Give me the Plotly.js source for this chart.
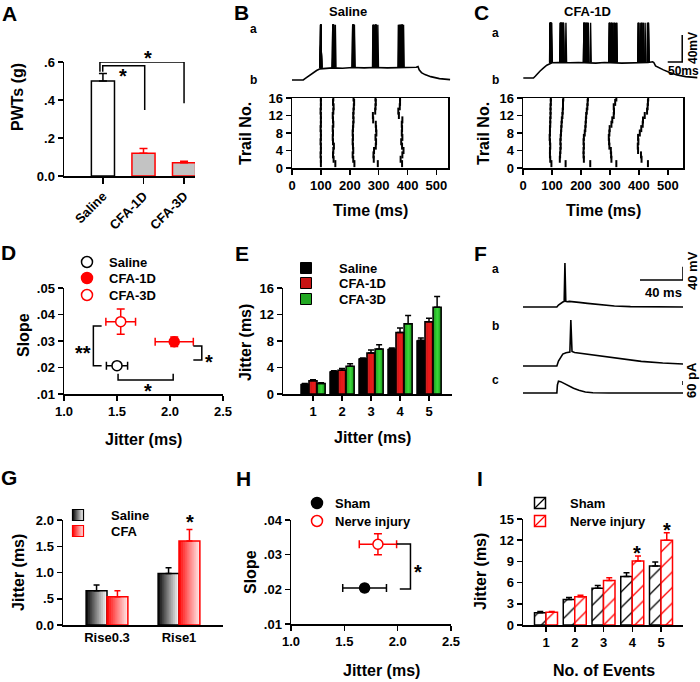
<!DOCTYPE html>
<html><head><meta charset="utf-8">
<script src="https://cdn.plot.ly/plotly-3.0.1.min.js"></script>
<style>html,body{margin:0;padding:0;background:#fff}#chart{width:700px;height:682px}</style>
</head><body><div id="chart"></div>
<script>
// ---------------- DATA ----------------
// A
const pwtGroups = ['Saline','CFA-1D','CFA-3D'];
const pwtMean = [0.50, 0.12, 0.07];
const pwtSem  = [0.04, 0.025, 0.008];
// B raster (spike times in ms; rows = 1st..5th spike, columns = trial 1..16)
const trialNo = [1,2,3,4,5,6,7,8,9,10,11,12,13,14,15,16];
const salineSpikeTimes = [
  [100,100,99,100,100,99,100,100,99,100,100,100,99,100,100,100],
  [150,144,142,143,145,142,141,142,141,143,142,141,143,144,142,143],
  [216,212,210,212,211,210,211,210,211,212,213,212,213,214,215,213],
  [297,283,282,284,290,291,289,292,291,290,281,280,288,289,290,289],
  [381,376,382,386,381,378,382,380,381,380,382,370,368,373,374,374]
];
// C raster
const cfaSpikeTimes = [
  [98,94,93,93,94,93,92,93,93,94,94,95,95,95,96,96],
  [147,127,128,129,130,129,130,131,132,133,134,136,137,138,138,139],
  [232,210,209,209,210,209,210,213,215,216,217,218,220,222,223,224],
  [322,305,304,303,298,297,296,298,299,305,308,313,314,313,318,322],
  [431,409,407,397,396,398,397,403,408,413,414,420,428,430,431,432]
];
// subthreshold membrane potential (ms, mV)
const salineVmT = [0,39,45,52,62,72,85,97,120,140,175,210,250,285,330,370,410,430,436,440,448,460,480,510,547];
const salineVm  = [-70,-70,-68,-66,-62.5,-59,-56,-53.5,-52.5,-52,-52.5,-51.5,-52,-51.5,-52,-51.5,-52,-51,-50,-55,-59,-62,-65,-68,-69.5];
const cfaVmT = [0,35,42,50,58,70,81,99,120,160,190,250,280,340,370,400,430,446,450,456,468,483,505,530,560,600];
const cfaVm  = [-70,-70,-67,-63,-59.6,-55,-51,-47.5,-47,-47.5,-47,-48,-47,-48,-47.5,-48,-47,-46,-47,-52,-55,-58,-62,-65.5,-68,-69.5];
// D
const dGroups = ['Saline','CFA-1D','CFA-3D'];
const dJitter = [1.50, 2.04, 1.535];
const dJitterErr = [0.10, 0.18, 0.14];
const dSlope = [0.0207, 0.0297, 0.0373];
const dSlopeErr = [0.0008, 0.0018, 0.0048];
// E
const eEvents = [1,2,3,4,5];
const eSaline = [1.5, 3.4, 5.35, 6.8, 8.1];
const eSalineErr = [0.1, 0.1, 0.1, 0.15, 0.35];
const eCfa1 = [2.0, 3.6, 6.2, 9.3, 10.9];
const eCfa1Err = [0.15, 0.25, 0.45, 0.65, 0.55];
const eCfa3 = [1.6, 4.2, 6.8, 10.6, 13.1];
const eCfa3Err = [0.1, 0.35, 0.65, 1.25, 1.6];
// F (time ms; a,b in mV above rest; c in pA)
const fTa = [0,31.5,33,35,37,38.3,39.0,39.8,41,43,46,52,60,70,85,100,120,149];
const fVa = [0,0,6,12,15,17,133,17,16,17,16.5,14,11,7,3,1,0,0];
const fTb = [0,31.5,33,35,37,40,43.6,44.5,45.6,48,55,70,90,110,130,149];
const fVb = [0,0,15,28,36,40,42,139,44,41,38,30,21,14,9,6];
const fTc = [0,31.5,32,33,35,38,42,47,52,58,65,80,149];
const fIc = [0,0,120,178,170,145,110,70,40,15,3,0,0];
// G
const gCats = ['Rise0.3','Rise1'];
const gSaline = [0.65, 0.98];
const gSalineErr = [0.11, 0.11];
const gCfa = [0.54, 1.60];
const gCfaErr = [0.11, 0.22];
// H
const hGroups = ['Sham','Nerve injury'];
const hJitter = [1.69, 1.815];
const hJitterErr = [0.205, 0.175];
const hSlope = [0.0204, 0.0330];
const hSlopeErr = [0.001, 0.003];
// I
const iEvents = [1,2,3,4,5];
const iSham = [1.75, 3.6, 5.2, 6.85, 8.35];
const iShamErr = [0.15, 0.3, 0.4, 0.55, 0.55];
const iNerve = [1.8, 4.0, 6.3, 9.05, 12.0];
const iNerveErr = [0.1, 0.2, 0.4, 0.7, 1.05];

// ---------------- HELPERS ----------------
const W = 700, H = 682;
const FONT = 'Arial, "Liberation Sans", Helvetica, sans-serif';
function fnt(size, color) { return {family: FONT, size: size, color: color || 'black', weight: 'bold'}; }
function xdom(l, r) { return [l / W, r / W]; }
function ydom(t, b) { return [1 - b / H, 1 - t / H]; }
function xr(l, r, p0, v0, ppu) { return [v0 - (p0 - l) / ppu, v0 + (r - p0) / ppu]; }
function yr(t, b, p0, v0, ppu) { return [v0 - (b - p0) / ppu, v0 + (p0 - t) / ppu]; }
const axBase = {showline: true, linecolor: 'black', linewidth: 1.5, ticks: 'outside', ticklen: 5,
  tickwidth: 1.5, tickcolor: 'black', showgrid: false, zeroline: false, tickfont: fnt(13), fixedrange: true};
function ax(extra) { return Object.assign({}, axBase, extra); }
function hid(extra) { return Object.assign({visible: false, showgrid: false, zeroline: false, fixedrange: true}, extra); }
const traces = [];
const annotations = [];
const shapes = [];
function ann(text, px, py, size, opt) {
  annotations.push(Object.assign({text: text, x: px / W, y: 1 - py / H, xref: 'paper', yref: 'paper',
    showarrow: false, xanchor: 'center', yanchor: 'middle', font: fnt(size)}, opt || {}));
}
function errUp(arr, color, w) {
  return {type: 'data', symmetric: false, array: arr, arrayminus: arr.map(() => 0), color: color, thickness: 1.5, width: w || 3};
}
function lerp(a, b, t) { return Math.round(a + (b - a) * t); }
function rgb(c) { return 'rgb(' + c.join(',') + ')'; }
function mix(c1, c2, t) { return [lerp(c1[0], c2[0], t), lerp(c1[1], c2[1], t), lerp(c1[2], c2[2], t)]; }
function slicedBars(xa, ya, xs, ys, w, off, N, colorAt) {
  for (let i = 0; i < N; i++) {
    const sw = (i < N - 1) ? w / N * 1.35 : w / N;
    traces.push({type: 'bar', xaxis: xa, yaxis: ya, x: xs, y: ys, width: sw, offset: off + i * w / N,
      marker: {color: colorAt((i + 0.5) / N), line: {width: 0}}, hoverinfo: 'skip', showlegend: false});
  }
}
function outlineBars(xa, ya, xs, ys, w, off, lineColor, err, errColor, fill) {
  traces.push({type: 'bar', xaxis: xa, yaxis: ya, x: xs, y: ys, width: w, offset: off,
    marker: {color: fill || 'rgba(0,0,0,0)', line: {color: lineColor, width: 1.5}},
    error_y: errUp(err, errColor), hoverinfo: 'skip', showlegend: false});
}

// ---------------- A ----------------
traces.push({type: 'bar', xaxis: 'x', yaxis: 'y', x: [0], y: [pwtMean[0]], width: 0.57, offset: -0.285,
  marker: {color: 'white', line: {color: 'black', width: 1.5}}, error_y: errUp([pwtSem[0]], 'black', 4)});
traces.push({type: 'bar', xaxis: 'x', yaxis: 'y', x: [1, 2], y: pwtMean.slice(1), width: 0.57, offset: -0.285,
  marker: {color: '#c3c3c3', line: {color: '#ff0000', width: 1.5}}, error_y: errUp(pwtSem.slice(1), '#ff0000', 4)});
shapes.push({type: 'path', xref: 'x', yref: 'y', path: 'M -0.074,0.549 L -0.074,0.6 L 2.0,0.6 L 2.0,0.383', line: {color: 'black', width: 1.5}});
shapes.push({type: 'path', xref: 'x', yref: 'y', path: 'M -0.005,0.549 L -0.005,0.58 L 1.03,0.58 L 1.03,0.347', line: {color: 'black', width: 1.5}});
ann('*', 123, 76, 20); ann('*', 148, 58, 20);

// ---------------- B / C traces ----------------
function spikeLines(times2D, base, peak, wl, wr) {
  const xs = [], ys = [];
  times2D.forEach(col => col.forEach(t => { xs.push(t - wl, t, t + wr, null); ys.push(base, peak, base, null); }));
  return {x: xs, y: ys};
}
traces.push({type: 'scatter', mode: 'lines', xaxis: 'x2', yaxis: 'y2', x: salineVmT, y: salineVm, line: {color: 'black', width: 1.6}, hoverinfo: 'skip'});
const sb = spikeLines(salineSpikeTimes, -52, 12, 1.5, 2.2);
traces.push({type: 'scatter', mode: 'lines', xaxis: 'x2', yaxis: 'y2', x: sb.x, y: sb.y, line: {color: 'black', width: 1.4}, hoverinfo: 'skip'});
traces.push({type: 'scatter', mode: 'lines', xaxis: 'x4', yaxis: 'y4', x: cfaVmT, y: cfaVm, line: {color: 'black', width: 1.6}, hoverinfo: 'skip'});
const sc = spikeLines(cfaSpikeTimes, -47, 12, 1.5, 2.2);
traces.push({type: 'scatter', mode: 'lines', xaxis: 'x4', yaxis: 'y4', x: sc.x, y: sc.y, line: {color: 'black', width: 1.4}, hoverinfo: 'skip'});
// scale bar C (50 ms, 40 mV)
shapes.push({type: 'path', xref: 'x4', yref: 'y4', path: 'M 498,-46.3 L 548,-46.3 L 548,-6.3', line: {color: 'black', width: 1.5}});
ann('40mV', 693, 48, 12, {textangle: -90});
ann('50ms', 683, 71, 12);

// rasters
salineSpikeTimes.forEach(col => traces.push({type: 'scatter', mode: 'markers', xaxis: 'x3', yaxis: 'y3', x: col, y: trialNo,
  marker: {symbol: 'line-ns', size: 5, line: {color: 'black', width: 2}}, hoverinfo: 'skip'}));
cfaSpikeTimes.forEach(col => traces.push({type: 'scatter', mode: 'markers', xaxis: 'x5', yaxis: 'y5', x: col, y: trialNo,
  marker: {symbol: 'line-ns', size: 5, line: {color: 'black', width: 2}}, hoverinfo: 'skip'}));

// ---------------- D ----------------
const dStyle = [
  {symbol: 'circle', color: 'white', line: {color: 'black', width: 1.5}},
  {symbol: 'circle', color: '#ff0000', line: {color: '#ff0000', width: 1.5}},
  {symbol: 'circle', color: 'white', line: {color: '#ff0000', width: 1.5}}
];
const dErrColor = ['black', '#ff0000', '#ff0000'];
for (let i = 0; i < 3; i++) {
  traces.push({type: 'scatter', mode: 'markers', xaxis: 'x6', yaxis: 'y6', name: dGroups[i], x: [dJitter[i]], y: [dSlope[i]],
    marker: Object.assign({size: 10}, dStyle[i]),
    error_x: {type: 'data', array: [dJitterErr[i]], color: dErrColor[i], thickness: 1.5, width: 4},
    error_y: {type: 'data', array: [dSlopeErr[i]], color: dErrColor[i], thickness: 1.5, width: 4}, hoverinfo: 'skip'});
}
shapes.push({type: 'path', xref: 'x6', yref: 'y6', path: 'M 1.355,0.0357 L 1.277,0.0357 L 1.277,0.0207 L 1.355,0.0207', line: {color: 'black', width: 1.5}});
shapes.push({type: 'path', xref: 'x6', yref: 'y6', path: 'M 2.22,0.0281 L 2.30,0.0281 L 2.30,0.0228 L 2.22,0.0228', line: {color: 'black', width: 1.5}});
shapes.push({type: 'path', xref: 'x6', yref: 'y6', path: 'M 1.51,0.0176 L 1.51,0.0153 L 2.03,0.0153 L 2.03,0.0176', line: {color: 'black', width: 1.5}});
ann('**', 83, 353, 20); ann('*', 209, 362, 20); ann('*', 148, 391, 20);

// ---------------- E ----------------
const cyl = (edge, mid) => (t => rgb(mix(edge, mid, Math.pow(Math.sin(Math.PI * t), 0.6))));
traces.push({type: 'bar', xaxis: 'x7', yaxis: 'y7', x: eEvents, y: eSaline, width: 0.28, offset: -0.42,
  marker: {color: 'black', line: {color: 'black', width: 1}}, error_y: errUp(eSalineErr, 'black'), hoverinfo: 'skip'});
slicedBars('x7', 'y7', eEvents, eCfa1, 0.28, -0.14, 6, cyl([110, 0, 0], [235, 25, 25]));
outlineBars('x7', 'y7', eEvents, eCfa1, 0.28, -0.14, 'black', eCfa1Err, 'black');
slicedBars('x7', 'y7', eEvents, eCfa3, 0.28, 0.14, 6, cyl([0, 85, 0], [50, 210, 50]));
outlineBars('x7', 'y7', eEvents, eCfa3, 0.28, 0.14, 'black', eCfa3Err, 'black');

// ---------------- F ----------------
traces.push({type: 'scatter', mode: 'lines', xaxis: 'x8', yaxis: 'y8', x: fTa, y: fVa, line: {color: 'black', width: 1.6}, hoverinfo: 'skip'});
traces.push({type: 'scatter', mode: 'lines', xaxis: 'x9', yaxis: 'y9', x: fTb, y: fVb, line: {color: 'black', width: 1.6}, hoverinfo: 'skip'});
traces.push({type: 'scatter', mode: 'lines', xaxis: 'x10', yaxis: 'y10', x: fTc, y: fIc, line: {color: 'black', width: 1.6}, hoverinfo: 'skip'});
shapes.push({type: 'path', xref: 'x8', yref: 'y8', path: 'M 108.8,81.8 L 148.8,81.8 L 148.8,121.8', line: {color: 'black', width: 1.5}});
shapes.push({type: 'line', xref: 'x10', yref: 'y10', x0: 148.8, x1: 148.8, y0: 120, y1: 180, line: {color: 'black', width: 1.5}});
ann('40 ms', 663, 292, 13); ann('40 mV', 692, 271, 13, {textangle: -90}); ann('60 pA', 692, 380, 13, {textangle: -90});
ann('a', 495, 269, 12); ann('b', 495, 326, 12); ann('c', 495, 380, 12);

// ---------------- G ----------------
slicedBars('x11', 'y11', [0, 1], gSaline, 0.29, -0.29, 10, t => rgb(mix([0, 0, 0], [250, 250, 250], Math.pow(t, 0.9))));
outlineBars('x11', 'y11', [0, 1], gSaline, 0.29, -0.29, 'black', gSalineErr, 'black');
slicedBars('x11', 'y11', [0, 1], gCfa, 0.29, 0, 10, t => rgb(mix([255, 0, 0], [255, 235, 235], Math.pow(t, 0.9))));
outlineBars('x11', 'y11', [0, 1], gCfa, 0.29, 0, '#ff0000', gCfaErr, '#ff0000');
ann('*', 190, 522, 20);

// ---------------- H ----------------
const hStyle = [
  {symbol: 'circle', color: 'black', line: {color: 'black', width: 1.5}},
  {symbol: 'circle', color: 'white', line: {color: '#ff0000', width: 1.5}}
];
const hErrColor = ['black', '#ff0000'];
for (let i = 0; i < 2; i++) {
  traces.push({type: 'scatter', mode: 'markers', xaxis: 'x12', yaxis: 'y12', name: hGroups[i], x: [hJitter[i]], y: [hSlope[i]],
    marker: Object.assign({size: 10}, hStyle[i]),
    error_x: {type: 'data', array: [hJitterErr[i]], color: hErrColor[i], thickness: 1.5, width: 4},
    error_y: {type: 'data', array: [hSlopeErr[i]], color: hErrColor[i], thickness: 1.5, width: 4}, hoverinfo: 'skip'});
}
shapes.push({type: 'path', xref: 'x12', yref: 'y12', path: 'M 1.99,0.0331 L 2.12,0.0331 L 2.12,0.0201 L 2.02,0.0201', line: {color: 'black', width: 1.5}});
ann('*', 418, 572, 20);

// ---------------- I ----------------
traces.push({type: 'bar', xaxis: 'x13', yaxis: 'y13', x: iEvents, y: iSham, width: 0.4, offset: -0.4,
  marker: {color: 'white', line: {color: 'black', width: 1.5}, pattern: {shape: '/', fgcolor: 'black', bgcolor: 'white', size: 11, solidity: 0.12}},
  error_y: errUp(iShamErr, 'black'), hoverinfo: 'skip'});
traces.push({type: 'bar', xaxis: 'x13', yaxis: 'y13', x: iEvents, y: iNerve, width: 0.4, offset: 0,
  marker: {color: 'white', line: {color: '#ff0000', width: 1.5}, pattern: {shape: '/', fgcolor: '#ff0000', bgcolor: 'white', size: 11, solidity: 0.12}},
  error_y: errUp(iNerveErr, '#ff0000'), hoverinfo: 'skip'});
ann('*', 637, 553, 20); ann('*', 667, 530, 20);

// ---------------- legends (overlay, page pixel coordinates) ----------------
function legMarker(px, py, marker) {
  traces.push({type: 'scatter', mode: 'markers', xaxis: 'x14', yaxis: 'y14', x: [px], y: [py], marker: marker, hoverinfo: 'skip'});
}
const dLegY = [262, 278, 295];
dGroups.forEach((g, i) => { legMarker(87, dLegY[i], Object.assign({size: 11}, dStyle[i])); ann(g, 107, dLegY[i], 13, {xanchor: 'left'}); });
const eLegY = [268, 283, 299];
const eLegCol = ['black', '#c81414', '#22a822'];
['Saline', 'CFA-1D', 'CFA-3D'].forEach((g, i) => { legMarker(306, eLegY[i], {symbol: 'square', size: 11, color: eLegCol[i], line: {color: 'black', width: 1}}); ann(g, 337, eLegY[i], 13, {xanchor: 'left'}); });
const gLegY = [515, 531];
legMarker(78, gLegY[0], {symbol: 'square', size: 11, color: 'black', gradient: {type: 'horizontal', color: 'white'}, line: {color: 'black', width: 1.2}});
legMarker(78, gLegY[1], {symbol: 'square', size: 11, color: '#ff0000', gradient: {type: 'horizontal', color: '#ffe8e8'}, line: {color: '#ff0000', width: 1.2}});
ann('Saline', 109, gLegY[0], 13, {xanchor: 'left'}); ann('CFA', 109, gLegY[1], 13, {xanchor: 'left'});
const hLegY = [503, 521];
hGroups.forEach((g, i) => { legMarker(317, hLegY[i], Object.assign({size: 11}, hStyle[i])); ann(g, 333, hLegY[i], 13, {xanchor: 'left'}); });
const iLegY = [503, 521];
const iLegCol = ['black', '#ff0000'];
['Sham', 'Nerve injury'].forEach((g, i) => {
  legMarker(540, iLegY[i], {symbol: 'square', size: 11, color: 'white', line: {color: iLegCol[i], width: 1.5}});
  legMarker(540, iLegY[i], {symbol: 'line-ne', size: 11, line: {color: iLegCol[i], width: 1.3}});
  ann(g, 568, iLegY[i], 13, {xanchor: 'left'});
});

// ---------------- text: panel letters, titles, axis titles ----------------
[['A', 9, 14], ['B', 241, 13], ['C', 481, 13], ['D', 8, 252], ['E', 242, 253], ['F', 480, 253], ['G', 9, 477], ['H', 243, 478], ['I', 480, 478]]
  .forEach(p => ann(p[0], p[1], p[2], 21));
ann('Saline', 348, 12, 13); ann('CFA-1D', 587, 12, 13);
ann('a', 253, 29, 12); ann('b', 253, 80, 12); ann('a', 495, 33, 12); ann('b', 495, 80, 12);
ann('PWTs (g)', 18, 97, 16, {textangle: -90});
ann('Trail No.', 245, 133, 16, {textangle: -90}); ann('Time (ms)', 370, 211, 16);
ann('Trail No.', 483, 133, 16, {textangle: -90}); ann('Time (ms)', 603, 211, 16);
ann('Slope', 23, 335, 16, {textangle: -90}); ann('Jitter (ms)', 143, 439, 16);
ann('Jitter (ms)', 245, 342, 16, {textangle: -90}); ann('Jitter (ms)', 372, 437, 16);
ann('Jitter (ms)', 18, 573, 16, {textangle: -90});
ann('Slope', 250, 572, 16, {textangle: -90}); ann('Jitter (ms)', 381, 670, 16);
ann('Jitter (ms)', 480, 572, 16, {textangle: -90}); ann('No. of Events', 604, 670, 16);

// ---------------- LAYOUT ----------------
const layout = {
  width: W, height: H, margin: {l: 0, r: 0, t: 0, b: 0}, paper_bgcolor: 'white', plot_bgcolor: 'rgba(0,0,0,0)',
  showlegend: false, barmode: 'overlay', hovermode: false,
  // A
  xaxis: ax({domain: xdom(64, 195), range: [-0.96, 2.27], anchor: 'y', tickvals: [0, 1, 2], ticktext: pwtGroups, tickangle: -45, ticklen: 6}),
  yaxis: ax({domain: ydom(62, 176), range: [0, 0.6], anchor: 'x', tickvals: [0, 0.2, 0.4, 0.6], ticktext: ['0.0', '.2', '.4', '.6']}),
  // B trace
  xaxis2: hid({domain: xdom(292, 451), range: xr(292, 451, 292, 0, 0.289), anchor: 'y2'}),
  yaxis2: hid({domain: ydom(18, 84), range: yr(18, 84, 80, -70, 0.675), anchor: 'x2'}),
  // B raster
  xaxis3: ax({domain: xdom(292, 448), range: [0, 540], anchor: 'y3', tickvals: [0, 100, 200, 300, 400, 500], mirror: true}),
  yaxis3: ax({domain: ydom(98, 168), range: [0, 16], anchor: 'x3', tickvals: [0, 4, 8, 12, 16], mirror: true}),
  // C trace
  xaxis4: hid({domain: xdom(523, 700), range: xr(523, 700, 523.3, 0, 0.29), anchor: 'y4'}),
  yaxis4: hid({domain: ydom(18, 84), range: yr(18, 84, 78, -70, 0.675), anchor: 'x4'}),
  // C raster
  xaxis5: ax({domain: xdom(523, 683), range: [0, 552], anchor: 'y5', tickvals: [0, 100, 200, 300, 400, 500], mirror: true}),
  yaxis5: ax({domain: ydom(98, 168), range: [0, 16], anchor: 'x5', tickvals: [0, 4, 8, 12, 16], mirror: true}),
  // D
  xaxis6: ax({domain: xdom(64, 223), range: [1.0, 2.5], anchor: 'y6', tickvals: [1, 1.5, 2, 2.5], ticktext: ['1.0', '1.5', '2.0', '2.5']}),
  yaxis6: ax({domain: ydom(288, 394), range: [0.01, 0.05], anchor: 'x6', tickvals: [0.01, 0.02, 0.03, 0.04, 0.05], ticktext: ['.01', '.02', '.03', '.04', '.05']}),
  // E
  xaxis7: ax({domain: xdom(283, 452), range: xr(283, 452, 313, 1, 29), anchor: 'y7', tickvals: eEvents}),
  yaxis7: ax({domain: ydom(288, 394), range: [0, 16], anchor: 'x7', tickvals: [0, 4, 8, 12, 16]}),
  // F
  xaxis8: hid({domain: xdom(523, 683), range: xr(523, 683, 523, 0, 1.075), anchor: 'y8'}),
  yaxis8: hid({domain: ydom(255, 312), range: yr(255, 312, 307, 0, 0.33), anchor: 'x8'}),
  xaxis9: hid({domain: xdom(523, 683), range: xr(523, 683, 523, 0, 1.075), anchor: 'y9'}),
  yaxis9: hid({domain: ydom(312, 370), range: yr(312, 370, 366, 0, 0.33), anchor: 'x9'}),
  xaxis10: hid({domain: xdom(523, 683), range: xr(523, 683, 523, 0, 1.075), anchor: 'y10'}),
  yaxis10: hid({domain: ydom(372, 398), range: yr(372, 398, 393, 0, 0.0667), anchor: 'x10'}),
  // G
  xaxis11: ax({domain: xdom(63, 223), range: xr(63, 223, 107, 0, 72), anchor: 'y11', tickvals: [0, 1], ticktext: gCats, ticks: ''}),
  yaxis11: ax({domain: ydom(520, 625), range: [0, 2], anchor: 'x11', tickvals: [0, 0.5, 1, 1.5, 2], ticktext: ['0.0', '.5', '1.0', '1.5', '2.0']}),
  // H
  xaxis12: ax({domain: xdom(291, 451), range: [1.0, 2.5], anchor: 'y12', tickvals: [1, 1.5, 2, 2.5], ticktext: ['1.0', '1.5', '2.0', '2.5']}),
  yaxis12: ax({domain: ydom(520, 624), range: [0.01, 0.04], anchor: 'x12', tickvals: [0.01, 0.02, 0.03, 0.04], ticktext: ['.01', '.02', '.03', '.04']}),
  // I
  xaxis13: ax({domain: xdom(523, 683), range: xr(523, 683, 546, 1, 28.75), anchor: 'y13', tickvals: iEvents}),
  yaxis13: ax({domain: ydom(519, 625), range: [0, 15], anchor: 'x13', tickvals: [0, 3, 6, 9, 12, 15]}),
  // overlay
  xaxis14: hid({domain: [0, 1], range: [0, W], anchor: 'y14'}),
  yaxis14: hid({domain: [0, 1], range: [H, 0], anchor: 'x14'}),
  shapes: shapes,
  annotations: annotations
};
Plotly.newPlot('chart', traces, layout, {staticPlot: true, displayModeBar: false});
</script>
</body></html>
